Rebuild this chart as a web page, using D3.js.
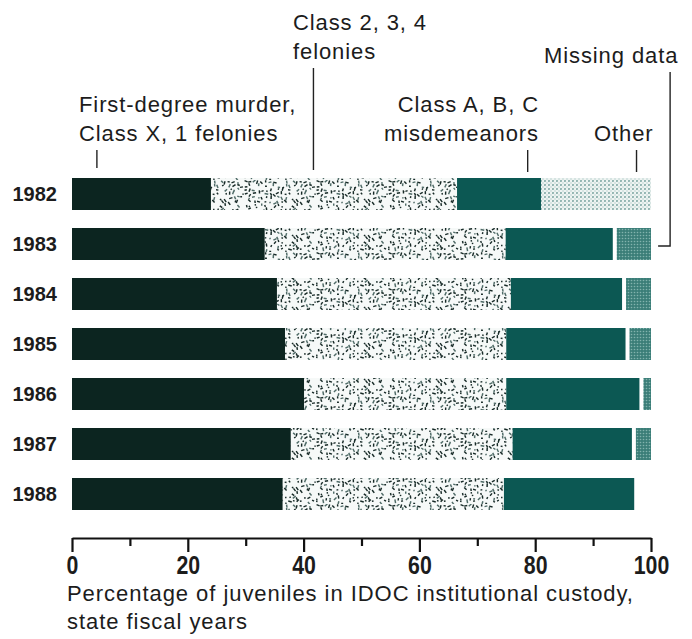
<!DOCTYPE html>
<html>
<head>
<meta charset="utf-8">
<script src="https://cdn.jsdelivr.net/npm/d3@7"></script>
<style>
  html, body { margin: 0; padding: 0; background: #fff; }
  svg { display: block; }
  text { font-family: "Liberation Sans", Arial, sans-serif; fill: #1c1c1c; }
</style>
</head>
<body>
<svg id="chart" width="692" height="639"></svg>
<script>
// ---------- data ----------
const years = ["1982", "1983", "1984", "1985", "1986", "1987", "1988"];
const firstDegree = [24.0, 33.3, 35.4, 36.8, 40.1, 37.8, 36.4];
const class234    = [42.5, 41.6, 40.4, 38.2, 34.9, 38.3, 38.2];
const classABC    = [14.5, 18.5, 19.2, 20.6, 23.0, 20.6, 22.5];
const other       = [0.0,  6.6,  5.0,  4.4,  2.0,  3.3,  0.0];
const missing     = [19.0, 0.0,  0.0,  0.0,  0.0,  0.0,  0.0];
const seriesNames = ["First-degree murder, Class X, 1 felonies", "Class 2, 3, 4 felonies",
                     "Class A, B, C misdemeanors", "Other", "Missing data"];
const tickValues = [0, 20, 40, 60, 80, 100];
const minorTicks = [10, 30, 50, 70, 90];
const axisTitle = ["Percentage of juveniles in IDOC institutional custody,", "state fiscal years"];

// ---------- setup ----------
const svg = d3.select("#chart");
const x = d3.scaleLinear().domain([0, 100]).range([72, 651]);
const y = d3.scaleBand().domain(years).range([169, 519]).paddingInner(0.36).paddingOuter(0.18);

const defs = svg.append("defs");

// speckle texture (deterministic jittered grid)
let seed = 987654;
function rnd() { seed = (seed * 1103515245 + 12345) % 2147483648; return seed / 2147483648; }
const TW = 72, TH = 36;
const sp = defs.append("pattern").attr("id", "speckle").attr("patternUnits", "userSpaceOnUse")
  .attr("width", TW).attr("height", TH);
sp.append("rect").attr("width", TW).attr("height", TH).attr("fill", "#f6f9f8");
for (let gx = 0; gx < TW; gx += 4) {
  for (let gy = 0; gy < TH; gy += 4) {
    if (rnd() < 0.22) continue;
    const cx = gx + 0.5 + rnd() * 3, cy = gy + 0.5 + rnd() * 3;
    const a = rnd() * Math.PI, l = 1.4 + rnd() * 2.4;
    sp.append("line")
      .attr("x1", cx - Math.cos(a) * l / 2).attr("y1", cy - Math.sin(a) * l / 2)
      .attr("x2", cx + Math.cos(a) * l / 2).attr("y2", cy + Math.sin(a) * l / 2)
      .attr("stroke", rnd() < 0.72 ? "#172a27" : "#4f6b67").attr("stroke-width", 1.45);
  }
}
// missing data: light dotted
const md = defs.append("pattern").attr("id", "missingPat").attr("patternUnits", "userSpaceOnUse")
  .attr("width", 4).attr("height", 4);
md.append("rect").attr("width", 4).attr("height", 4).attr("fill", "#eef4f2");
md.append("circle").attr("cx", 1).attr("cy", 1).attr("r", 1.05).attr("fill", "#8bb0ac");
md.append("circle").attr("cx", 3).attr("cy", 3).attr("r", 0.8).attr("fill", "#b8d1ce");
// other: teal with lighter dots
const ot = defs.append("pattern").attr("id", "otherPat").attr("patternUnits", "userSpaceOnUse")
  .attr("width", 3).attr("height", 3);
ot.append("rect").attr("width", 3).attr("height", 3).attr("fill", "#3b7e78");
ot.append("circle").attr("cx", 1.5).attr("cy", 1.5).attr("r", 0.8).attr("fill", "#82b3ad");

const fills = ["#0c2520", "url(#speckle)", "#0c5853", "url(#otherPat)", "url(#missingPat)"];
const seriesArrays = [firstDegree, class234, classABC, other, missing];

// ---------- bars ----------
const rows = years.map((yr, i) => {
  let acc = 0;
  return seriesArrays.map((arr, k) => {
    const seg = { year: yr, k, x0: acc, x1: acc + arr[i] };
    acc += arr[i];
    return seg;
  }).filter(s => s.x1 > s.x0);
});

const barG = svg.append("g");
barG.selectAll("g.row").data(rows).join("g").attr("class", "row")
  .selectAll("rect").data(d => d).join("rect")
  .attr("x", d => x(d.x0) + (d.k === 3 ? 4 : 0))
  .attr("y", d => y(d.year))
  .attr("width", d => Math.max(0, x(d.x1) - x(d.x0) - (d.k === 3 ? 4 : 0)))
  .attr("height", y.bandwidth())
  .attr("fill", d => fills[d.k]);

// year labels
svg.append("g").selectAll("text").data(years).join("text")
  .attr("x", 57).attr("y", d => y(d) + y.bandwidth() / 2)
  .attr("dy", "0.36em").attr("text-anchor", "end")
  .style("font-size", "20px").style("font-weight", "bold")
  .attr("fill", "#111")
  .text(d => d);

// ---------- axis ----------
const axisY = 538;
const axisG = svg.append("g").attr("transform", `translate(0,${axisY})`)
  .call(d3.axisBottom(x).tickValues(tickValues).tickSize(14).tickSizeOuter(0).tickPadding(4));
axisG.select(".domain").attr("stroke", "#111").attr("stroke-width", 2.2);
axisG.selectAll(".tick line").attr("stroke", "#111").attr("stroke-width", 2.2);
axisG.selectAll(".tick text").style("font-size", "26px").style("font-weight", "bold")
  .attr("transform", "scale(0.82,1)")
  .attr("fill", "#111");
const minorG = svg.append("g").attr("transform", `translate(0,${axisY})`)
  .call(d3.axisBottom(x).tickValues(minorTicks).tickSize(8).tickFormat(""));
minorG.select(".domain").remove();
minorG.selectAll(".tick line").attr("stroke", "#111").attr("stroke-width", 2.2);

// axis title
svg.append("g").selectAll("text").data(axisTitle).join("text")
  .attr("x", 67).attr("y", (d, i) => 601 + i * 28)
  .style("font-size", "22px").style("letter-spacing", "0.95px")
  .text(d => d);

// ---------- annotations ----------
const ann = svg.append("g");
function lines(arr, xx, y0, anchor) {
  ann.selectAll(null).data(arr).join("text")
    .attr("x", xx).attr("y", (d, i) => y0 + i * 29)
    .attr("text-anchor", anchor)
    .style("font-size", "22px").style("letter-spacing", "0.9px")
    .text(d => d);
}
lines(["Class 2, 3, 4", "felonies"], 293, 30, "start");
lines(["First-degree murder,", "Class X, 1 felonies"], 79, 112, "start");
lines(["Class A, B, C", "misdemeanors"], 539, 112, "end");
lines(["Other"], 594, 141, "start");
lines(["Missing data"], 544, 63, "start");

const leader = [
  { v: 4.3,  y1: 150, y2: 168 },
  { v: 41.7, y1: 68,  y2: 170 },
  { v: 78.7, y1: 150, y2: 172 },
  { v: 97.5, y1: 150, y2: 172 }
];
ann.selectAll("line.lead").data(leader).join("line").attr("class", "lead")
  .attr("x1", d => x(d.v)).attr("x2", d => x(d.v))
  .attr("y1", d => d.y1).attr("y2", d => d.y2)
  .attr("stroke", "#222").attr("stroke-width", 1.4);
// missing data bracket
const mx = x(103.3);
ann.append("path")
  .attr("d", `M${mx},72 L${mx},246 L${mx - 12},246`)
  .attr("fill", "none").attr("stroke", "#222").attr("stroke-width", 1.4);
</script>
</body>
</html>
